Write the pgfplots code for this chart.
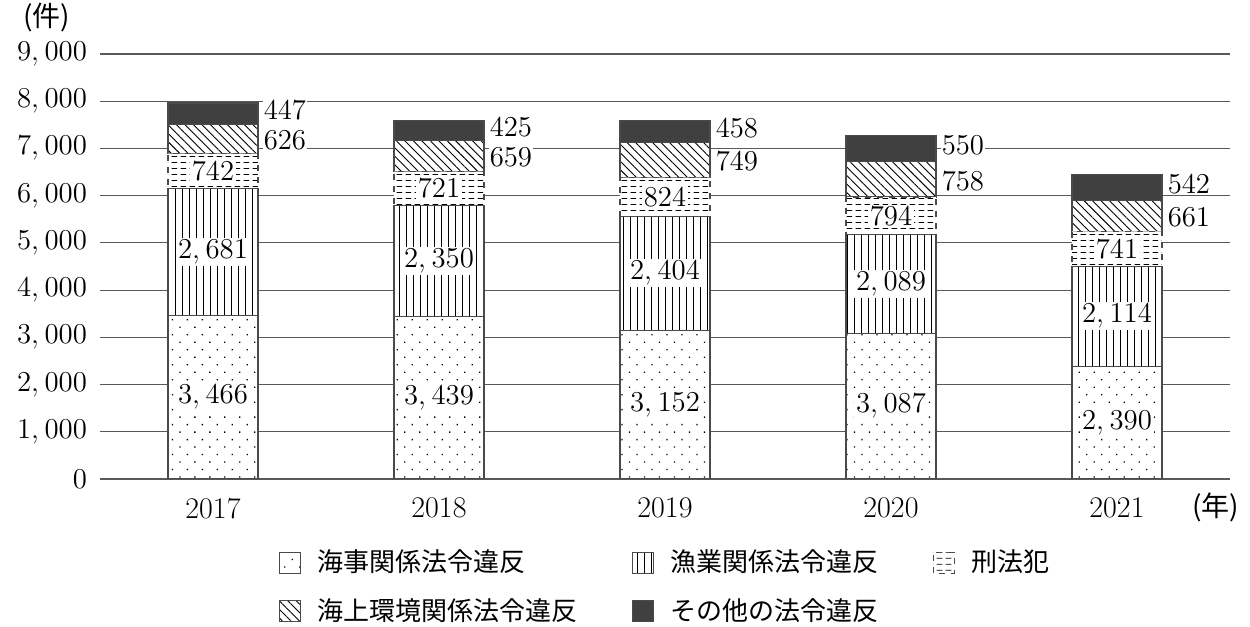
\documentclass[border=0pt]{standalone}
\usepackage{fontspec}
\newfontfamily\jp{Noto Sans CJK JP}
\usepackage{pgfplots}
\pgfplotsset{compat=1.18}
\usepackage{pgfplotstable}
\usetikzlibrary{patterns,patterns.meta}

\pgfdeclarepattern{
  name=hdash, type=uncolored,
  bottom left={\pgfpoint{0pt}{0pt}},
  top right={\pgfpoint{4.5pt}{3pt}},
  tile size={\pgfpoint{4.5pt}{3pt}},
  code={\pgfsetlinewidth{0.45pt}\pgfpathmoveto{\pgfpoint{0.4pt}{1.5pt}}\pgfpathlineto{\pgfpoint{3.4pt}{1.5pt}}\pgfusepath{stroke}}
}
\definecolor{darkfill}{HTML}{404040}
\definecolor{edge}{HTML}{4A4A4A}

\pgfplotstableread{
x v
0 3466
1 3439
2 3152
3 3087
4 2390
}\maritime
\pgfplotstableread{
x v
0 2681
1 2350
2 2404
3 2089
4 2114
}\fishery
\pgfplotstableread{
x v
0 742
1 721
2 824
3 794
4 741
}\criminal
\pgfplotstableread{
x v
0 626
1 659
2 749
3 758
4 661
}\environment
\pgfplotstableread{
x v
0 447
1 425
2 458
3 550
4 542
}\other

\pgfplotsset{
  sqlegend/.style={legend image code/.code={\draw[##1, line width=0.5pt] (0pt,-5.25pt) rectangle (10.5pt,5.25pt);}},
  outside label/.style={every node near coord/.append style={anchor=west, xshift=24.8pt, inner sep=0.3pt, yshift=#1}},
}

\begin{document}
\begin{tikzpicture}
\useasboundingbox (-50pt,-74pt) rectangle (575pt,239.5pt);
\begin{axis}[
  name=ax,
  at={(0,0)}, anchor=south west,
  scale only axis, width=565pt, height=212.5pt,
  ybar stacked, bar width=45pt,
  xmin=-0.5, xmax=4.5, ymin=0, ymax=9000,
  xtick=data, xticklabels={2017,2018,2019,2020,2021},
  ytick={0,1000,...,9000},
  scaled y ticks=false,
  ymajorgrids, grid style={draw=black!65, line width=0.6pt},
  axis line style={draw=none},
  major tick length=0pt,
  tick label style={font=\fontsize{15}{17}\selectfont},
  yticklabel style={xshift=-3pt, /pgf/number format/1000 sep={{,}\mkern3.5mu}},
  xticklabel style={yshift=-6pt},
  point meta=explicit,
  nodes near coords={\pgfmathprintnumber[1000 sep={{,}\mkern3.5mu}]{\pgfplotspointmeta}},
  every node near coord/.append style={font=\fontsize{15}{17}\selectfont, fill=white, inner sep=1pt, anchor=center},
  legend columns=3,
  legend style={at={(0.158,-0.157)}, anchor=north west, draw=none, fill=none, inner sep=0pt,
    font=\jp\fontsize{13}{15}\selectfont, row sep=8pt,
    /tikz/every odd column/.append style={column sep=6.5pt},
    /tikz/every even column/.append style={column sep=25pt}},
  legend cell align=left,
]
\addplot[sqlegend, draw=edge, line width=0.6pt, fill=white, postaction={pattern={Dots[distance=5.3pt, angle=45, radius=0.45pt]}}]
  table[x=x, y=v, meta=v] {\maritime};
\addlegendentry{海事関係法令違反}
\addplot[sqlegend, draw=edge, line width=0.6pt, fill=white, postaction={pattern={Lines[angle=90, distance=3.5pt, line width=0.45pt]}}]
  table[x=x, y=v, meta=v] {\fishery};
\addlegendentry{漁業関係法令違反}
\addplot[sqlegend, draw=edge, line width=0.6pt, dashed, fill=white, postaction={pattern=hdash}]
  table[x=x, y=v, meta=v] {\criminal};
\addlegendentry{刑法犯}
\addplot[sqlegend, outside label=-0.8pt, draw=edge, line width=0.6pt, fill=white, postaction={pattern={Lines[angle=-45, distance=3pt, line width=0.45pt]}}]
  table[x=x, y=v, meta=v] {\environment};
\addlegendentry{海上環境関係法令違反}
\addplot[sqlegend, outside label=1.5pt, draw=edge, line width=0.6pt, fill=darkfill]
  table[x=x, y=v, meta=v] {\other};
\addlegendentry{その他の法令違反}
\end{axis}
\node[font=\jp\fontsize{14}{16}\selectfont, inner sep=0pt] at ([xshift=-26.5pt, yshift=18pt]ax.north west) {(件)};
\node[font=\jp\fontsize{14}{16}\selectfont, inner sep=0pt] at ([xshift=-7pt, yshift=-14pt]ax.south east) {(年)};
\end{tikzpicture}
\end{document}
